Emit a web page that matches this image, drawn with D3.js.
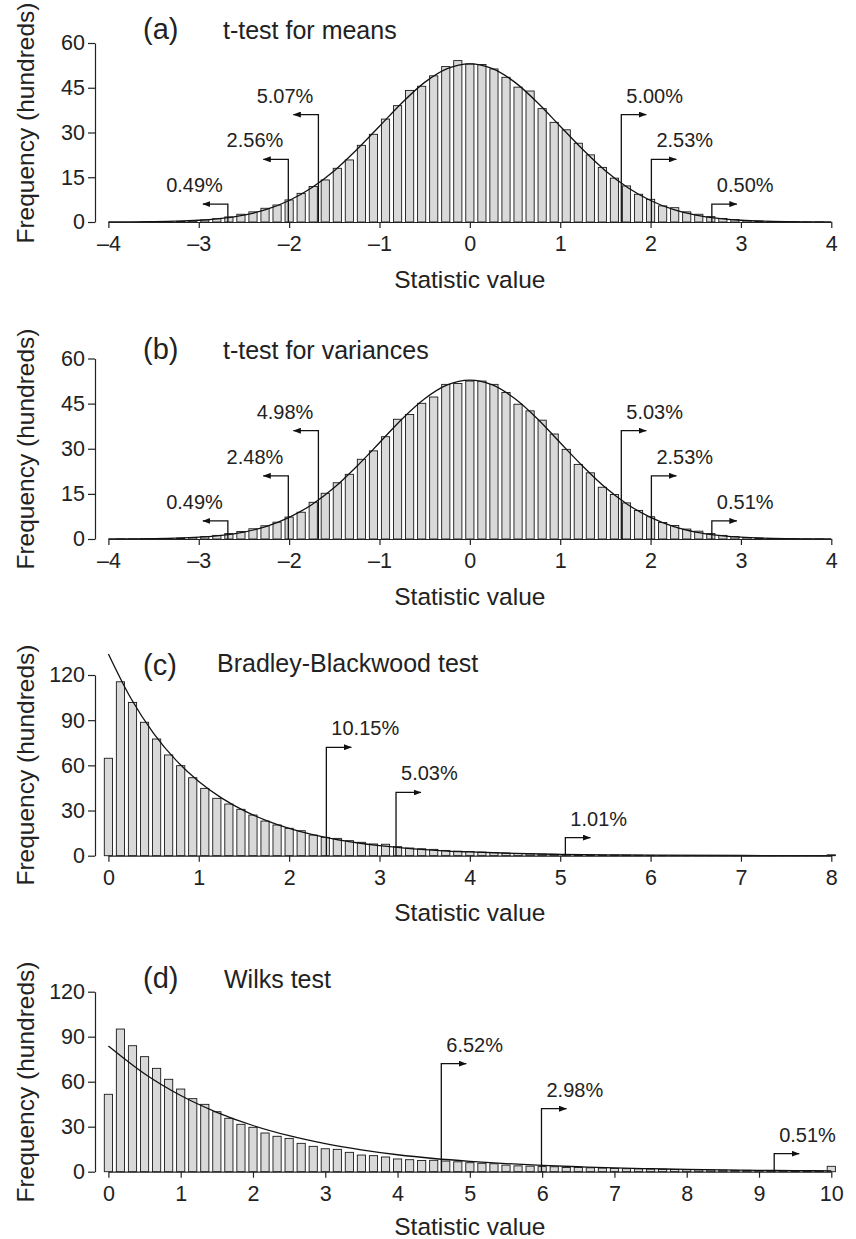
<!DOCTYPE html>
<html>
<head>
<meta charset="utf-8">
<script src="https://cdn.jsdelivr.net/npm/d3@7"></script>
<style>
body { margin: 0; background: #fff; }
text { font-family: "Liberation Sans", Arial, Helvetica, sans-serif; fill: #222; }
</style>
</head>
<body>
<div id="chart"></div>
<script>
// histogram heights (hundreds), one per bin
// (a),(b): bins of width 2/15 centred on -4 ... 4
const barsA = [0, 0, 0, 0.01, 0.03, 0.1, 0.2, 0.4, 0.7, 1.1, 1.7, 2.6, 3.4, 4.6, 5.7, 7.4, 9.6, 11.9, 14.1, 18.0,
  20.8, 25.7, 29.4, 34.5, 39.0, 44.1, 45.5, 49.0, 52.1, 54.1, 53.0, 52.8, 51.3, 48.5, 45.2, 43.9, 38.0, 33.4, 30.9, 26.4,
  22.5, 18.3, 14.7, 12.1, 9.3, 7.6, 5.4, 4.8, 3.4, 2.6, 1.8, 1.2, 0.8, 0.5, 0.3, 0.15, 0.08, 0.04, 0.02, 0.01, 0];
const barsB = [0, 0.01, 0.02, 0.05, 0.09, 0.17, 0.3, 0.5, 0.8, 1.2, 1.8, 2.5, 3.4, 4.4, 5.6, 7.3, 8.9, 12.2, 15.2, 18.7,
  21.5, 26.5, 29.3, 34.0, 39.8, 41.4, 45.1, 47.2, 51.4, 51.7, 52.5, 52.5, 51.4, 48.7, 44.8, 42.6, 39.5, 34.9, 29.8, 24.8,
  22.0, 17.2, 14.8, 12.0, 9.5, 7.4, 5.5, 4.5, 3.3, 2.6, 1.8, 1.2, 0.8, 0.5, 0.3, 0.18, 0.1, 0.05, 0.02, 0.01, 0];
// (c): bins of width 2/15 centred on 0 ... 8
const barsC = [64.7, 115.5, 101.8, 88.6, 77.5, 66.9, 59.8, 51.8, 44.7, 38.1, 34.3, 30.8, 27.0, 23.0, 20.4, 18.2, 16.6, 13.7, 12.2, 11.5,
  10.0, 8.9, 7.8, 7.6, 6.0, 5.1, 4.6, 4.2, 3.5, 3.0, 2.8, 2.4, 2.0, 1.7, 1.5, 1.2, 1.0, 0.9, 0.8, 0.6,
  0.5, 0.4, 0.35, 0.3, 0.25, 0.2, 0.15, 0.12, 0.1, 0.08, 0.06, 0.05, 0.04, 0.03, 0.03, 0.02, 0.02, 0.01, 0.01, 0.01, 0.6];
// (d): bins of width 1/6 centred on 0 ... 10
const barsD = [51.6, 95.1, 84.0, 76.7, 68.9, 61.6, 55.1, 48.7, 44.9, 40.0, 35.6, 31.6, 29.6, 25.8, 23.6, 22.2, 18.9, 16.9, 15.3, 14.9,
  12.9, 11.1, 10.7, 9.8, 8.5, 8.0, 7.5, 7.6, 7.1, 6.6, 6.0, 5.6, 5.3, 4.4, 3.9, 3.7, 3.4, 3.3, 2.8, 2.8,
  2.6, 2.4, 2.2, 2.0, 1.9, 1.7, 1.6, 1.5, 1.3, 1.2, 1.1, 1.0, 0.9, 0.9, 0.8, 0.7, 0.7, 0.6, 0.6, 0.5, 3.6];

// theoretical curves
const curveABx = [-4, -3.75, -3.5, -3.25, -3, -2.75, -2.5, -2.25, -2, -1.75, -1.5, -1.25, -1, -0.75, -0.5, -0.25, 0,
  0.25, 0.5, 0.75, 1, 1.25, 1.5, 1.75, 2, 2.25, 2.5, 2.75, 3, 3.25, 3.5, 3.75, 4];
const curveAy = [0.02, 0.05, 0.12, 0.27, 0.59, 1.2, 2.3, 4.2, 7.2, 11.5, 17.2, 24.3, 32.1, 40.0, 46.8, 51.4, 53.0,
  51.4, 46.8, 40.0, 32.1, 24.3, 17.2, 11.5, 7.2, 4.2, 2.3, 1.2, 0.59, 0.27, 0.12, 0.05, 0.02];
const curveBy = [0.02, 0.05, 0.12, 0.27, 0.59, 1.2, 2.3, 4.2, 7.2, 11.4, 17.1, 24.2, 32.0, 39.9, 46.6, 51.2, 52.8,
  51.2, 46.6, 39.9, 32.0, 24.2, 17.1, 11.4, 7.2, 4.2, 2.3, 1.2, 0.59, 0.27, 0.12, 0.05, 0.02];
const curveCx = [0, 0.25, 0.5, 0.75, 1, 1.25, 1.5, 1.75, 2, 2.25, 2.5, 2.75, 3, 3.25, 3.5, 3.75, 4, 4.5, 5, 5.5, 6, 7, 8];
const curveCy = [134, 104.4, 81.3, 63.3, 49.3, 38.4, 29.9, 23.3, 18.1, 14.1, 11.0, 8.6, 6.7, 5.2, 4.0, 3.1, 2.5, 1.5, 0.9, 0.55, 0.33, 0.12, 0.04];
const curveDx = [0, 0.5, 1, 1.5, 2, 2.5, 3, 3.5, 4, 4.5, 5, 5.5, 6, 6.5, 7, 7.5, 8, 8.5, 9, 9.5, 10];
const curveDy = [83.8, 65.3, 50.8, 39.6, 30.8, 24.0, 18.7, 14.6, 11.3, 8.8, 6.9, 5.4, 4.2, 3.3, 2.5, 2.0, 1.5, 1.2, 0.9, 0.7, 0.56];

// critical values, rejection rates and arrow heights (hundreds)
const critA = [-2.678, -2.009, -1.676, 1.676, 2.009, 2.678];
const pctA = ["0.49%", "2.56%", "5.07%", "5.00%", "2.53%", "0.50%"];
const pctB = ["0.49%", "2.48%", "4.98%", "5.03%", "2.53%", "0.51%"];
const arrowAB = [6, 21, 36, 36, 21, 6];
const critC = [2.412, 3.183, 5.057];
const pctC = ["10.15%", "5.03%", "1.01%"];
const critD = [4.605, 5.991, 9.210];
const pctD = ["6.52%", "2.98%", "0.51%"];
const arrowCD = [72, 42, 12];

const ticksX8 = [-4, -3, -2, -1, 0, 1, 2, 3, 4];
const ticksX0to8 = [0, 1, 2, 3, 4, 5, 6, 7, 8];
const ticksX0to10 = [0, 1, 2, 3, 4, 5, 6, 7, 8, 9, 10];
const ticksY60 = [0, 15, 30, 45, 60];
const ticksY120 = [0, 30, 60, 90, 120];

const panels = [
  { letter: "(a)", title: "t-test for means", bars: barsA, binStart: -4, binW: 2 / 15, xDom: [-4, 4], xTicks: ticksX8,
    yMax: 60, yTicks: ticksY60, cx: curveABx, cy: curveAy, crit: critA, pct: pctA, heights: arrowAB,
    y0: 222, yTop: 43, letterY: 39, titleY: 39, titleX: 223, labelY: 123, xTitleY: 288 },
  { letter: "(b)", title: "t-test for variances", bars: barsB, binStart: -4, binW: 2 / 15, xDom: [-4, 4], xTicks: ticksX8,
    yMax: 60, yTicks: ticksY60, cx: curveABx, cy: curveBy, crit: critA, pct: pctB, heights: arrowAB,
    y0: 539, yTop: 358.5, letterY: 359, titleY: 358.5, titleX: 223, labelY: 449, xTitleY: 605 },
  { letter: "(c)", title: "Bradley-Blackwood test", bars: barsC, binStart: 0, binW: 2 / 15, xDom: [0, 8], xTicks: ticksX0to8,
    yMax: 120, yTicks: ticksY120, cx: curveCx, cy: curveCy, crit: critC, pct: pctC, heights: arrowCD,
    y0: 855.7, yTop: 675, letterY: 675, titleY: 672, titleX: 217, labelY: 765, xTitleY: 921 },
  { letter: "(d)", title: "Wilks test", bars: barsD, binStart: 0, binW: 1 / 6, xDom: [0, 10], xTicks: ticksX0to10,
    yMax: 120, yTicks: ticksY120, cx: curveDx, cy: curveDy, crit: critD, pct: pctD, heights: arrowCD,
    y0: 1171.7, yTop: 991.7, letterY: 988, titleY: 988, titleX: 224, labelY: 1082, xTitleY: 1234.5 }
];

const W = 856, H = 1239;
const xLeft = 108.4, xRight = 831.3, yAxisX = 95;

const svg = d3.select('#chart')
  .append('svg')
  .attr('width', W)
  .attr('height', H);

svg.append('defs').append('marker')
  .attr('id', 'head')
  .attr('markerUnits', 'userSpaceOnUse')
  .attr('viewBox', '0 0 8 6')
  .attr('refX', 7.5)
  .attr('refY', 3)
  .attr('markerWidth', 8)
  .attr('markerHeight', 6)
  .attr('orient', 'auto')
  .append('path')
  .attr('d', 'M0,0 L8,3 L0,6 Z')
  .attr('fill', '#111');

panels.forEach(p => {
  const g = svg.append('g');

  const x = d3.scaleLinear().domain(p.xDom).range([xLeft, xRight]);
  const y = d3.scaleLinear().domain([0, p.yMax]).range([p.y0, p.yTop]);
  const bw = (x(p.binW) - x(0)) * 0.68;

  // bars
  g.selectAll('.bar')
    .data(p.bars)
    .enter().append('rect')
    .attr('class', 'bar')
    .attr('x', (d, i) => x(p.binStart + i * p.binW) - bw / 2)
    .attr('y', d => y(d))
    .attr('width', bw)
    .attr('height', d => p.y0 - y(d))
    .attr('fill', '#d9d9d9')
    .attr('stroke', '#1a1a1a')
    .attr('stroke-width', 0.9);

  // fitted curve
  const line = d3.line()
    .x((d, i) => x(p.cx[i]))
    .y(d => y(d))
    .curve(d3.curveMonotoneX);
  g.append('path')
    .datum(p.cy)
    .attr('d', line)
    .attr('fill', 'none')
    .attr('stroke', '#111')
    .attr('stroke-width', 1.3);

  // axes
  const xAxis = g.append('g')
    .attr('transform', `translate(0, ${p.y0})`)
    .call(d3.axisBottom(x).tickValues(p.xTicks).tickSize(6).tickPadding(8).tickSizeOuter(0)
      .tickFormat(d => d < 0 ? '\u2013' + Math.abs(d) : d));
  const yAxis = g.append('g')
    .attr('transform', `translate(${yAxisX}, 0)`)
    .call(d3.axisLeft(y).tickValues(p.yTicks).tickSize(7).tickPadding(3).tickSizeOuter(0));
  [xAxis, yAxis].forEach(a => {
    a.selectAll('path, line').attr('stroke', '#222').attr('stroke-width', 1.2);
    a.selectAll('text').attr('font-size', '21.5px').attr('fill', '#222')
      .attr('font-family', '"Liberation Sans", Arial, sans-serif');
  });

  // axis titles
  g.append('text')
    .attr('x', (xLeft + xRight) / 2)
    .attr('y', p.xTitleY)
    .attr('text-anchor', 'middle')
    .attr('font-size', '24.5px')
    .text('Statistic value');
  g.append('text')
    .attr('transform', `translate(34, ${p.labelY}) rotate(-90)`)
    .attr('text-anchor', 'middle')
    .attr('font-size', '24.5px')
    .text('Frequency (hundreds)');

  // panel label and title
  g.append('text')
    .attr('x', 143)
    .attr('y', p.letterY)
    .attr('font-size', '29px')
    .text(p.letter);
  g.append('text')
    .attr('x', p.titleX)
    .attr('y', p.titleY)
    .attr('font-size', '25px')
    .text(p.title);

  // critical value arrows
  p.crit.forEach((c, i) => {
    const dir = c < 0 ? -1 : 1;
    const cxp = x(c);
    const cyp = y(p.heights[i]);
    g.append('path')
      .attr('d', `M${cxp},${p.y0} V${cyp} H${cxp + dir * 25}`)
      .attr('fill', 'none')
      .attr('stroke', '#111')
      .attr('stroke-width', 1.3)
      .attr('marker-end', 'url(#head)');
    g.append('text')
      .attr('x', cxp + dir * 5)
      .attr('y', cyp - 12)
      .attr('text-anchor', dir < 0 ? 'end' : 'start')
      .attr('font-size', '20px')
      .text(p.pct[i]);
  });
});
</script>
</body>
</html>
